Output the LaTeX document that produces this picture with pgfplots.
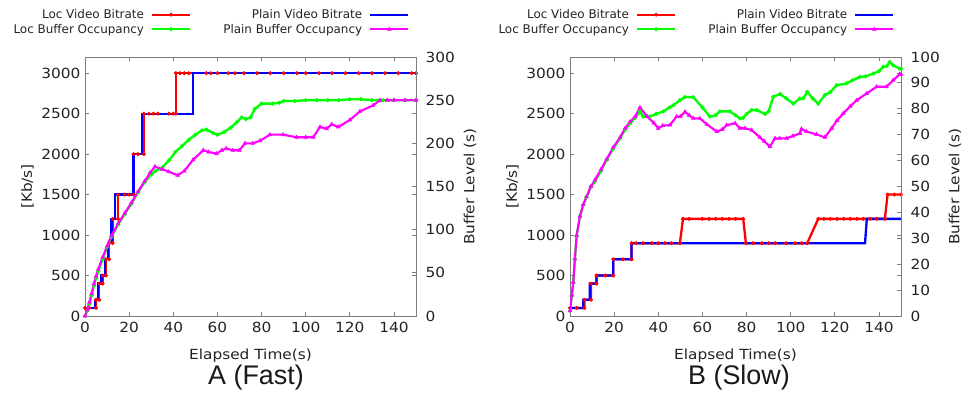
\documentclass[border=0pt]{standalone}
\usepackage{pgfplots}
\pgfplotsset{compat=1.18}
\usepackage{fontspec}
\setmainfont{DejaVu Sans}
\newfontfamily\tickfont[FakeStretch=1.1]{DejaVu Sans}
\newfontfamily\capfont{Liberation Sans}
\definecolor{framegray}{RGB}{125,125,125}
\definecolor{txt}{RGB}{35,35,35}
\definecolor{cred}{RGB}{255,0,0}
\definecolor{cblue}{RGB}{0,0,255}
\definecolor{cgreen}{RGB}{0,255,0}
\definecolor{cmag}{RGB}{255,0,255}

\pgfplotsset{
  legend image code/.code={%
    \draw[mark repeat=2,mark phase=2,#1]
      plot coordinates {(0bp,0bp) (19bp,0bp) (38bp,0bp)};},
  base/.style={
    scale only axis, width=331bp, height=259bp,
    xmin=0, xmax=150,
    axis line style={framegray, line width=0.9bp},
    tick style={framegray, line width=0.8bp},
    major tick length=4bp,
    tick align=inside,
    /pgf/number format/assume math mode=true,
    /pgf/number format/1000 sep={},
    tick label style={font=\tickfont\fontsize{14}{14}\selectfont\color{txt}},
    label style={font=\tickfont\fontsize{14}{14}\selectfont\color{txt}},
  },
  leftaxis/.style={
    base,
    ymin=0, ymax=3200, ytick={0,500,...,3000},
    xtick={0,20,...,140},
    xticklabel style={yshift=-3bp},
    yticklabel style={xshift=-1bp},
    xlabel={Elapsed Time(s)},
    xlabel style={at={(axis description cs:0.5,-0.152)}, anchor=center},
    ylabel={[Kb/s]},
    ylabel style={at={(axis description cs:-0.174,0.5)}, anchor=center},
    legend columns=2,
    legend plot pos=right,
    legend cell align=right,
    legend style={at={(0.99,1.2)}, anchor=north east, draw=none, fill=none,
      font=\fontsize{12}{12}\selectfont\color{txt},
      /tikz/every odd column/.append style={column sep=5bp},
      /tikz/every even column/.append style={column sep=30bp}},
  },
  rightaxis/.style={
    base,
    axis x line=none, axis y line*=right,
    yticklabel style={xshift=6bp},
    ylabel={Buffer Level (s)},
    ylabel style={at={(axis description cs:1.163,0.5)}, anchor=center},
  },
  locvid/.style={color=cred, line width=2.3bp, mark=*, mark size=1.7bp,
    mark options={line width=0.6bp}},
  plainvid/.style={color=cblue, line width=2.3bp, mark=none},
  locbuf/.style={color=cgreen, line width=2.3bp, mark=*, mark size=1.8bp,
    mark options={line width=0.6bp}},
  plainbuf/.style={color=cmag, line width=2.1bp, mark=triangle*, mark size=2.1bp,
    mark options={line width=0.6bp}},
}

\begin{document}
\begin{tikzpicture}
\path[use as bounding box] (0bp,0bp) rectangle (978bp,403bp);

% ---------------- Panel A: fast network ----------------
\begin{axis}[leftaxis, at={(85bp,87bp)}, anchor=south west]
% Loc video bitrate [Kb/s]
\addplot[locvid] coordinates {
 (0,100)(2,100)(5,100)(5,200)(6.5,200)(6.5,400)(8,400)(8,500)(9.5,500)(9.5,700)
 (11,700)(11,900)(12.5,900)(12.5,1200)(15,1200)(15,1500)(18,1500)(20,1500)(22,1500)(22,2000)
 (24,2000)(26.7,2000)(26.7,2500)(29,2500)(31,2500)(33,2500)(38,2500)(40,2500)(41.2,2500)(41.2,3000)
 (43,3000)(45,3000)(47,3000)(55,3000)(57,3000)(60,3000)(65,3000)(68,3000)(72,3000)(78,3000)
 (84,3000)(90,3000)(96,3000)(100,3000)(106,3000)(112,3000)(118,3000)(124,3000)(130,3000)(136,3000)
 (142,3000)(148,3000)(150,3000)};
% Plain video bitrate [Kb/s]
\addplot[plainvid] coordinates {
 (0,100)(4.5,100)(4.5,200)(6,200)(6,400)(7.5,400)(7.5,500)(9,500)(9,700)(10.5,700)
 (10.5,900)(12,900)(12,1200)(13.5,1200)(13.5,1500)(22,1500)(22,2000)(25.7,2000)(25.7,2500)(48.8,2500)
 (48.8,3000)(150,3000)};
\addlegendimage{locbuf}
\addlegendimage{plainbuf}
\legend{Loc Video Bitrate, Plain Video Bitrate, Loc Buffer Occupancy, Plain Buffer Occupancy}
\end{axis}

\begin{axis}[rightaxis, at={(85bp,87bp)}, anchor=south west,
  ymin=0, ymax=300, ytick={0,50,...,300}]
% Loc buffer occupancy [s]
\addplot[locbuf] coordinates {
 (0,0)(1,6)(2,14)(3,24)(4,35)(5,44)(6,52)(8,66)(10,80)(12,92)(15,106)(18,118)(21,130)
 (24,143)(27,155)(30,164)(32,168)(35,172)(38,180)(41,190)(44,197)(47,204)(50,210)(53,215)
 (55,216)(58,212)(60,210)(63,213)(66,218)(69,225)(71,230)(73,228)(75,230)(77,240)(80,246)
 (85,246)(88,247)(90,249)(95,249)(100,250)(105,250)(110,250)(115,250)(120,251)(125,251)
 (130,250)(135,250)(140,250)(145,250)(150,250)};
% Plain buffer occupancy [s]
\addplot[plainbuf] coordinates {
 (0,0)(1,7)(2,16)(3,26)(4,37)(5,46)(6,54)(8,68)(10,81)(12,93)(15,107)(18,119)(21,131)
 (24,144)(27,156)(29.5,166)(31.7,173)(35,170)(38,167)(42,163)(45,168)(49,181)(53.6,192)
 (56,190)(59.6,188)(62,192)(64,194)(67,192)(70,192)(72.5,200)(76,200)(79.3,203)(83.8,210)
 (89.8,210)(95.9,207)(100,207)(103.4,207)(106.5,219)(109.5,217)(111.8,222)(114.8,219)
 (120,227)(124.6,237)(130.6,244)(133.7,250)(137,250)(140,250)(145,250)(150,250)};
\end{axis}

% ---------------- Panel B: slow network ----------------
\begin{axis}[leftaxis, at={(570bp,87bp)}, anchor=south west]
% Loc video bitrate [Kb/s]
\addplot[locvid] coordinates {
 (0,100)(3,100)(6.5,100)(6.5,200)(9.5,200)(9.5,400)(12,400)(12,500)(16,500)(19.6,500)
 (19.6,700)(24,700)(27.9,700)(27.9,900)(30,900)(33,900)(37,900)(40,900)(43,900)(46,900)
 (49.8,900)(51.2,1200)(54,1200)(60,1200)(63,1200)(66,1200)(69,1200)(72,1200)(75,1200)(78.5,1200)
 (79.7,900)(83,900)(87,900)(90,900)(93,900)(98,900)(102,900)(105,900)(107.5,900)(112.5,1200)
 (115,1200)(118,1200)(121,1200)(124,1200)(127,1200)(130,1200)(133,1200)(136,1200)(139,1200)(142.7,1200)
 (143.9,1500)(147,1500)(150,1500)};
% Plain video bitrate [Kb/s]
\addplot[plainvid] coordinates {
 (0,100)(6,100)(6,200)(9,200)(9,400)(12,400)(12,500)(19.6,500)(19.6,700)(27.9,700)
 (27.9,900)(133.7,900)(134.5,1200)(150,1200)};
\addlegendimage{locbuf}
\addlegendimage{plainbuf}
\legend{Loc Video Bitrate, Plain Video Bitrate, Loc Buffer Occupancy, Plain Buffer Occupancy}
\end{axis}

\begin{axis}[rightaxis, at={(570bp,87bp)}, anchor=south west,
  ymin=0, ymax=100, ytick={0,10,...,100}]
% Loc buffer occupancy [s]
\addplot[locbuf] coordinates {
 (0,2)(0.8,8)(1.5,13)(2.2,22)(3,31)(4.5,38.5)(6,43)(7.5,46)(9.5,50)(11.3,52)(14,56)
 (16.6,60.3)(19.5,64.5)(22.7,68.6)(25,72)(27.2,74.4)(29.5,76.5)(31.7,79)(33.2,77)(36.2,77)
 (39,78)(42.3,79)(45,80.5)(47,81.5)(49.8,83.3)(52,84.5)(55.9,84.5)(60,80.5)(63.4,77)(66,77.5)
 (67.9,79)(72.5,79)(75,77.5)(77,76.3)(78.5,76.5)(80,78)(82.3,79.5)(84.6,79.5)(88.4,78)(90,79)
 (92.1,84.6)(95.2,85.7)(98,84)(101.2,82)(104.2,84)(105.7,84)(107.5,86.5)(110,84)(112.5,82)
 (115.5,85.3)(118,86.5)(120.8,89.1)(125.3,89.8)(128,91)(131.3,92.3)(134,92.5)(137.4,93.6)
 (140,94.5)(141.9,96.2)(143.5,96.5)(144.9,98)(146.4,96.8)(149.4,95.5)(150,95.5)};
% Plain buffer occupancy [s]
\addplot[plainbuf] coordinates {
 (0,2)(0.8,8)(1.5,13)(2.2,22)(3,31)(4.5,38.5)(6,43)(7.5,46)(9.5,50)(11.3,52.5)(14,56.5)
 (16.6,60.5)(19.5,65)(22.7,69)(25,72.5)(27.2,75)(29.5,77)(31.7,80.5)(35,77)(38,74.5)(40,72.5)
 (42,73.5)(45.3,73.7)(48.3,77)(50,77)(52.1,78.8)(54,77.5)(55.9,76.3)(58.9,76.3)(62,74)(66.5,71.2)
 (69,72)(71,73.7)(74.8,74.4)(77,72.5)(79.3,72.5)(82.3,71.8)(86,69)(88,67.5)(90.6,65.4)(92.9,68.6)
 (95,68.6)(98.2,68.6)(101,69.5)(104.2,70.5)(104.9,72.2)(107.2,71.2)(111.7,70.1)(115.5,69)
 (118.6,72.5)(121,75.5)(123.8,78.2)(127,81)(129.9,83.3)(134.4,85.9)(138.9,88.5)(143.4,88.5)
 (146.4,91)(149.4,93.3)(150,93.3)};
\end{axis}

% panel captions
\node[font=\capfont\fontsize{27}{27}\selectfont, text=black!90] at (256bp,25bp) {A (Fast)};
\node[font=\capfont\fontsize{27}{27}\selectfont, text=black!90] at (739bp,25bp) {B (Slow)};
\end{tikzpicture}
\end{document}
